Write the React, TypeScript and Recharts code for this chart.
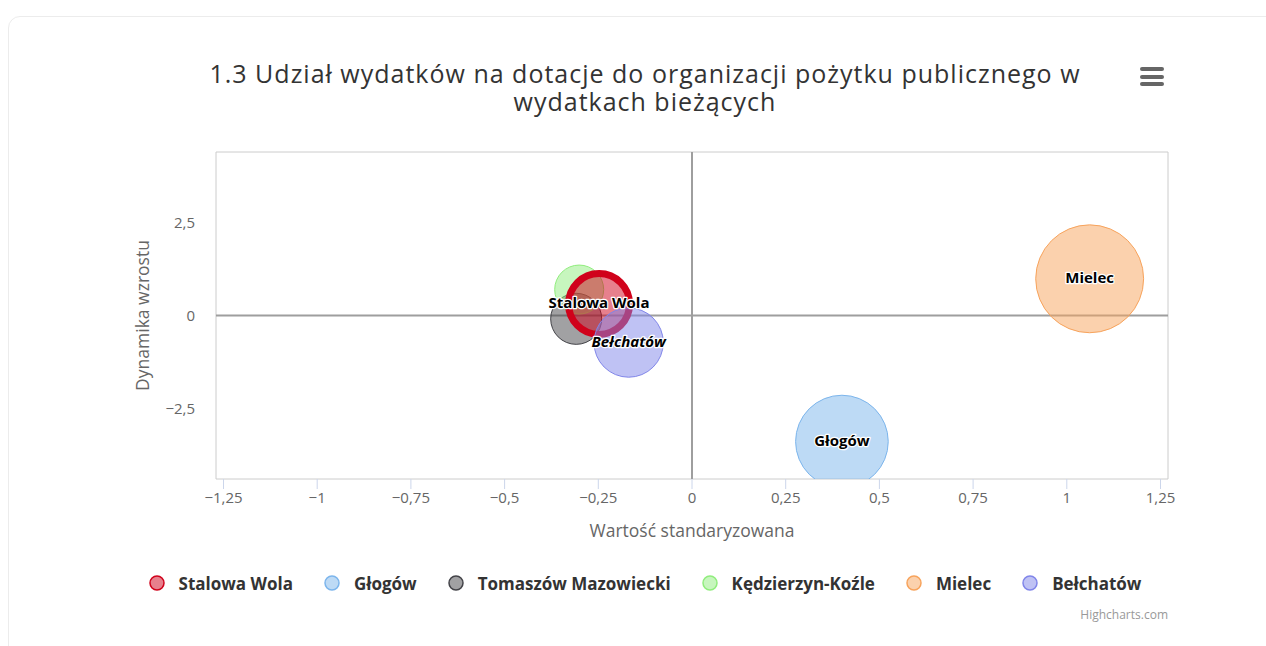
import { ScatterChart, Scatter, XAxis, YAxis, ZAxis, ReferenceLine, ReferenceArea } from "recharts";

const cities = ["Stalowa Wola", "Głogów", "Tomaszów Mazowiecki", "Kędzierzyn-Koźle", "Mielec", "Bełchatów"];
const standardized = [-0.248, 0.4, -0.309, -0.301, 1.061, -0.169];
const growth = [0.31, -3.4, -0.09, 0.7, 0.99, -0.73];
const bubbleSize = [31, 71.5, 21.7, 20, 97, 40];
const colors = ["#d0021b", "#7cb5ec", "#434348", "#90ed7d", "#f7a35c", "#8085e9"];
const labeled = ["Stalowa Wola", "Głogów", "Mielec", "Bełchatów"];
const italicLabels = ["Bełchatów"];
const xTicks = [-1.25, -1, -0.75, -0.5, -0.25, 0, 0.25, 0.5, 0.75, 1, 1.25];
const yTicks = [-2.5, 0, 2.5];
// kolejność rysowania: Stalowa Wola nad większością bąbli
const drawOrder = [1, 2, 3, 4, 0, 5];

const FONT = "'Open Sans', sans-serif";

const points = cities.map((name, i) => ({ name, x: standardized[i], y: growth[i], z: bubbleSize[i] }));
const labelPoints = points.filter(p => labeled.includes(p.name));

const fmt = (v: number) => String(v).replace(".", ",").replace("-", "\u2212");

function Bubble(props: any) {
  const { cx, cy, width, color, highlight } = props;
  if (cx == null || cy == null) return null;
  return (
    <circle
      cx={cx}
      cy={cy}
      r={width / 2}
      fill={color}
      fillOpacity={0.5}
      stroke={color}
      strokeWidth={highlight ? 7 : 1}
    />
  );
}

function BubbleLabel(props: any) {
  const { cx, cy, payload } = props;
  if (cx == null || cy == null) return null;
  return (
    <text
      x={cx}
      y={cy - 2}
      textAnchor="middle"
      dominantBaseline="central"
      fontSize={15}
      fontWeight="bold"
      fontStyle={italicLabels.includes(payload.name) ? "italic" : "normal"}
      fill="#000"
      stroke="#fff"
      strokeWidth={2.5}
      strokeLinejoin="round"
      paintOrder="stroke"
      fontFamily={FONT}
    >
      {payload.name}
    </text>
  );
}

export default function App() {
  return (
    <div style={{ position: "fixed", left: 0, top: 0, width: 1266, height: 646, overflow: "hidden", background: "#fff", fontFamily: FONT }}>
      <div
        style={{
          position: "absolute",
          left: 8,
          top: 16,
          width: 1300,
          height: 700,
          border: "1px solid #ececec",
          borderRadius: 12,
          boxSizing: "border-box",
        }}
      />
      <div
        style={{
          position: "absolute",
          left: 145,
          width: 1000,
          top: 59,
          textAlign: "center",
          fontSize: 25,
          letterSpacing: 1,
          lineHeight: "28px",
          color: "#333",
        }}
      >
        1.3 Udział wydatków na dotacje do organizacji pożytku publicznego w<br />
        wydatkach bieżących
      </div>
      <svg style={{ position: "absolute", left: 1140, top: 67 }} width={25} height={20}>
        <rect x={0} y={0} width={24} height={4} rx={2} fill="#666" />
        <rect x={0} y={8} width={24} height={4} rx={2} fill="#666" />
        <rect x={0} y={15} width={24} height={4} rx={2} fill="#666" />
      </svg>
      <div style={{ position: "absolute", left: 0, top: 0 }}>
        <ScatterChart width={1266} height={646} margin={{ top: 152, right: 98, bottom: 137, left: 136 }}>
          <XAxis
            type="number"
            dataKey="x"
            domain={[-1.27, 1.27]}
            ticks={xTicks}
            interval={0}
            allowDataOverflow
            tickFormatter={fmt}
            axisLine={false}
            tickLine={{ stroke: "#ccd6eb" }}
            tickSize={10}
            tickMargin={3}
            tick={{ fill: "#666", fontSize: 15 }}
            height={30}
            label={{ value: "Wartość standaryzowana", position: "bottom", offset: 16, fill: "#666", fontSize: 17.5 }}
          />
          <YAxis
            type="number"
            dataKey="y"
            domain={[-4.41, 4.41]}
            ticks={yTicks}
            interval={0}
            allowDataOverflow
            width={80}
            tickFormatter={fmt}
            axisLine={false}
            tickLine={false}
            tickSize={0}
            tickMargin={21}
            tick={{ fill: "#666", fontSize: 15 }}
            label={{
              value: "Dynamika wzrostu",
              angle: -90,
              position: "insideLeft",
              offset: 7,
              fill: "#666",
              fontSize: 17.5,
              style: { textAnchor: "middle" },
            }}
          />
          <ZAxis type="number" dataKey="z" domain={[0, 100]} range={[0, 3000 * Math.PI]} />
          <ReferenceArea x1={-1.27} x2={1.27} y1={-4.41} y2={4.41} fill="none" fillOpacity={0} stroke="#ccc" />
          <ReferenceLine x={0} stroke="#9e9e9e" strokeWidth={2} />
          <ReferenceLine y={0} stroke="#9e9e9e" strokeWidth={2} />
          {drawOrder.map(i => (
            <Scatter
              key={cities[i]}
              name={cities[i]}
              data={[points[i]]}
              isAnimationActive={false}
              shape={(p: any) => <Bubble {...p} color={colors[i]} highlight={i === 0} />}
            />
          ))}
          <Scatter name="labels" data={labelPoints} isAnimationActive={false} shape={BubbleLabel} />
        </ScatterChart>
      </div>
      <div
        style={{
          position: "absolute",
          left: 0,
          width: 1290,
          top: 572,
          height: 22,
          display: "flex",
          justifyContent: "center",
          alignItems: "center",
        }}
      >
        {cities.map((name, i) => (
          <div key={name} style={{ display: "flex", alignItems: "center", margin: "0 15.5px" }}>
            <svg width={16} height={16} style={{ marginRight: 14 }}>
              <circle cx={8} cy={8} r={7} fill={colors[i]} fillOpacity={0.5} stroke={colors[i]} strokeWidth={1.5} />
            </svg>
            <span style={{ fontSize: 17, fontWeight: "bold", color: "#333" }}>{name}</span>
          </div>
        ))}
      </div>
      <div style={{ position: "absolute", right: 98, top: 606, fontSize: 12, color: "#999" }}>Highcharts.com</div>
    </div>
  );
}
